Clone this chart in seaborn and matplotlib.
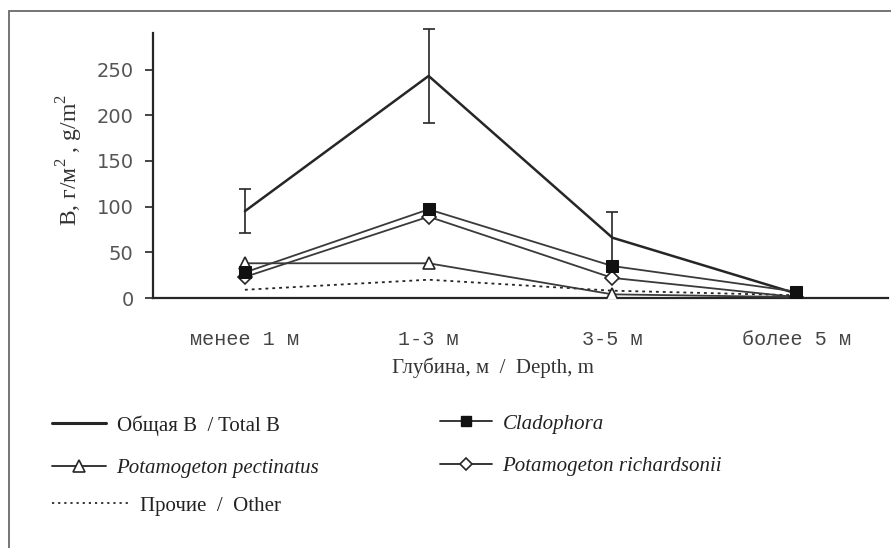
import matplotlib
matplotlib.use("Agg")
import matplotlib.pyplot as plt
from matplotlib.patches import Rectangle
from matplotlib.lines import Line2D
import seaborn as sns
import pandas as pd

# Depth classes and biomass (g/m2) of the main macrophyte groups
depths = ["менее 1 м", "1-3 м", "3-5 м", "более 5 м"]
total_b = [95, 243, 66, 5]
total_err = [24, 51, 28, 0]
cladophora = [28, 97, 35, 7]
pectinatus = [38, 38, 4, 1]
richardsonii = [23, 89, 22, 1]
other = [9, 20, 8, 3]

y_ticks = [0, 50, 100, 150, 200, 250]

sns.set_theme(style="white")
plt.rcParams["font.family"] = ["Liberation Serif", "DejaVu Serif"]
plt.rcParams["mathtext.fontset"] = "custom"
plt.rcParams["mathtext.rm"] = "Liberation Serif"

W, H = 891, 548
fig = plt.figure(figsize=(W / 100, H / 100), dpi=100)
ax = fig.add_axes([153 / W, 1 - 298 / H, 735 / W, 265 / H])

ink = "#262626"

df = pd.DataFrame({
    "depth": depths,
    "total": total_b,
    "clad": cladophora,
    "pect": pectinatus,
    "rich": richardsonii,
    "other": other,
})

# error bars for total biomass
eb = ax.errorbar(range(len(depths)), total_b, yerr=total_err, fmt="none",
                 ecolor=ink, elinewidth=1.2, capsize=4, capthick=1.2, zorder=2)
for art in eb.lines[1] + eb.lines[2]:
    art.set_clip_on(False)

sns.lineplot(data=df, x="depth", y="total", ax=ax, color=ink, lw=1.8,
             sort=False, zorder=3)
sns.lineplot(data=df, x="depth", y="other", ax=ax, color=ink, lw=1.3,
             ls=(0, (1.6, 2.2)), sort=False, zorder=3)
sns.lineplot(data=df, x="depth", y="pect", ax=ax, color="#3a3a3a", lw=1.3,
             marker="^", ms=9, mfc="white", mec=ink, mew=1.2, sort=False, zorder=4)
sns.lineplot(data=df, x="depth", y="rich", ax=ax, color="#3a3a3a", lw=1.3,
             marker="D", ms=7.5, mfc="white", mec=ink, mew=1.2, sort=False, zorder=4)
sns.lineplot(data=df, x="depth", y="clad", ax=ax, color="#3a3a3a", lw=1.3,
             marker="s", ms=8.5, mfc="#111111", mec="#111111", sort=False, zorder=5)

ax.set_xlim(-0.5, len(depths) - 0.5)
ax.set_ylim(0, 290)
ax.set_yticks(y_ticks)
ax.set_yticklabels([str(v) for v in y_ticks], family="DejaVu Sans",
                   fontsize=14, color="#555555")
ax.set_xticks(range(len(depths)))
ax.set_xticklabels(depths, family="Liberation Mono", fontsize=14.5, color="#444444")
ax.set_xticks([i - 0.5 for i in range(len(depths) + 1)], minor=True)
ax.tick_params(axis="x", which="major", length=0, pad=23)
ax.tick_params(axis="x", which="minor", length=6, width=1.2, color=ink, direction="out")
ax.tick_params(axis="y", length=6, width=1.2, color=ink, direction="out", left=True, pad=8)

for s in ["top", "right"]:
    ax.spines[s].set_visible(False)
for s in ["left", "bottom"]:
    ax.spines[s].set_color(ink)
    ax.spines[s].set_linewidth(1.6)

ax.set_ylabel("")
ax.set_xlabel("Глубина, м  /  Depth, m", fontsize=15, color="#333333")
ax.xaxis.set_label_coords((493 - 153) / 735, (298 - 357) / 265)

fig.text(70 / W, 1 - 160 / H, "B, г/м$^{2}$ , g/m$^{2}$", rotation=90, ha="center",
         va="center", fontsize=17, color="#333333")

# outer frame
fig.patches.append(Rectangle((9 / W, -0.05), 1.2, 1 - 11 / H + 0.05,
                             transform=fig.transFigure, fill=False,
                             edgecolor="#6a6a6a", lw=1.3))

# legend
h_total = Line2D([], [], color=ink, lw=2.2)
h_pect = Line2D([], [], color=ink, lw=1.3, marker="^", ms=8, mfc="white", mec=ink, mew=1.2)
h_other = Line2D([], [], color=ink, lw=1.3, ls=(0, (1.2, 2.2)))
h_clad = Line2D([], [], color=ink, lw=1.3, marker="s", ms=7, mfc="#111111", mec="#111111")
h_rich = Line2D([], [], color=ink, lw=1.3, marker="D", ms=6, mfc="white", mec=ink, mew=1.2)

common = dict(frameon=False, fontsize=15, borderpad=0, borderaxespad=0,
              handletextpad=0.5, labelspacing=1.1, labelcolor="#222222")

leg1 = fig.legend([h_total, h_pect], ["Общая В  / Total B", "Potamogeton pectinatus"],
                  loc="upper left", bbox_to_anchor=(52 / W, 1 - 415 / H),
                  handlelength=2.6, **common)
leg1.get_texts()[1].set_style("italic")

leg2 = fig.legend([h_clad, h_rich], ["Cladophora", "Potamogeton richardsonii"],
                  loc="upper left", bbox_to_anchor=(440 / W, 1 - 414 / H),
                  handlelength=2.5, **common)
for t in leg2.get_texts():
    t.set_style("italic")

leg3 = fig.legend([h_other], ["Прочие  /  Other"],
                  loc="upper left", bbox_to_anchor=(52 / W, 1 - 496 / H),
                  handlelength=3.7, **common)

fig.savefig("out.png", dpi=100)
